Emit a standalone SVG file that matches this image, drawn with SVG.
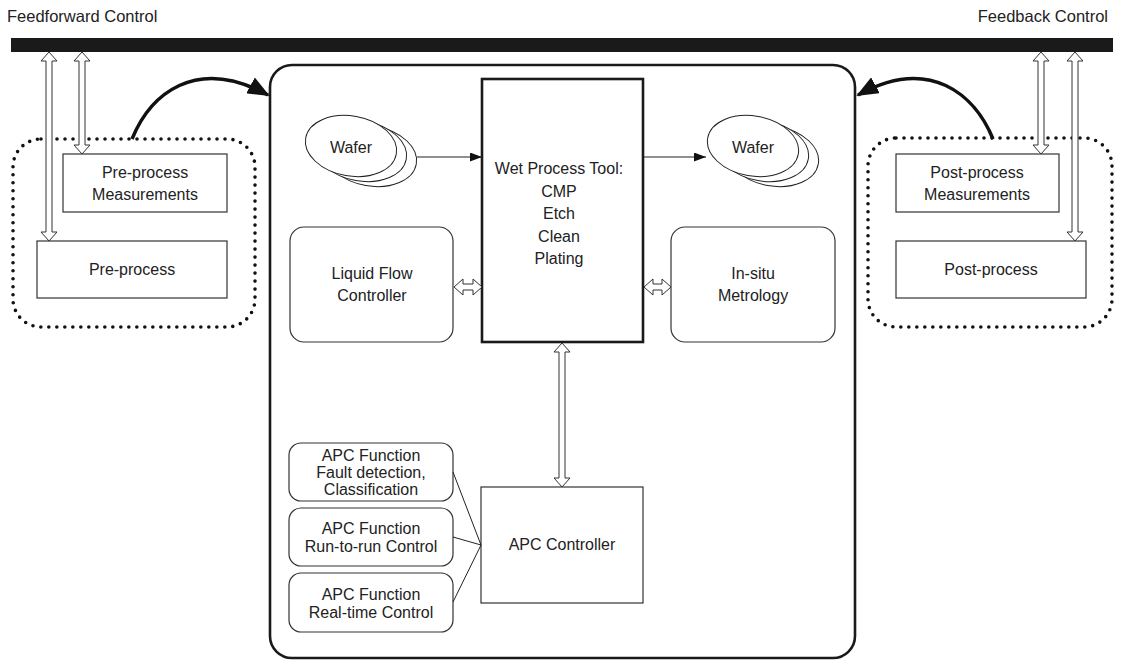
<svg xmlns="http://www.w3.org/2000/svg" width="1122" height="660" viewBox="0 0 1122 660">
<style>
text{font-family:"Liberation Sans",Arial,sans-serif;font-size:16px;fill:#222;text-anchor:middle;dominant-baseline:central}
.ttl{font-size:16.5px}
.box{fill:#fff;stroke:#333;stroke-width:1.2}
.thick{fill:#fff;stroke:#1a1a1a;stroke-width:2.6}
.dot{fill:none;stroke:#111;stroke-width:3.6;stroke-linecap:round;stroke-dasharray:0 8}
.dbl{fill:#fff;stroke:#333;stroke-width:1}
.curve{fill:none;stroke:#111;stroke-width:3.5}
.thin{fill:none;stroke:#222;stroke-width:1}
.wafer{fill:#fff;stroke:#222;stroke-width:1}
</style>
<defs>
<marker id="big" markerUnits="userSpaceOnUse" markerWidth="22" markerHeight="18" viewBox="0 0 22 18" refX="20" refY="9" orient="auto">
<path d="M0,0 L22,9 L0,18 Z" fill="#111"/>
</marker>
<marker id="small" markerUnits="userSpaceOnUse" markerWidth="12" markerHeight="9" viewBox="0 0 12 9" refX="12" refY="4.5" orient="auto">
<path d="M0,0 L12,4.5 L0,9 Z" fill="#111"/>
</marker>
</defs>
<rect width="1122" height="660" fill="#fff"/>

<g id="titles">
<text x="7" y="16" class="ttl" style="text-anchor:start">Feedforward Control</text>
<text x="1108" y="16" class="ttl" style="text-anchor:end">Feedback Control</text>
</g>

<g id="bus"><rect x="11" y="38" width="1102" height="14" fill="#1a1a1a"/></g>

<g id="main-container"><rect x="270" y="65" width="585" height="593" rx="22" class="thick" fill="none"/></g>

<g id="pre-group"><rect x="13" y="139" width="242" height="188" rx="28" class="dot"/></g>
<g id="post-group"><rect x="868" y="138" width="244" height="189" rx="28" class="dot"/></g>

<g id="pre-meas"><rect x="63" y="154" width="164" height="58" class="box"/><text x="145" y="172">Pre-process</text><text x="145" y="194">Measurements</text></g>
<g id="pre-process"><rect x="37" y="241" width="190" height="57" class="box"/><text x="132" y="269">Pre-process</text></g>
<g id="post-meas"><rect x="896" y="154" width="163" height="58" class="box"/><text x="977" y="172">Post-process</text><text x="977" y="194">Measurements</text></g>
<g id="post-process"><rect x="896" y="241" width="190" height="57" class="box"/><text x="991" y="269">Post-process</text></g>

<g id="wafer-in">
<ellipse cx="371" cy="156" rx="46" ry="30" transform="rotate(10 371 156)" class="wafer"/>
<ellipse cx="361" cy="151" rx="46" ry="30" transform="rotate(10 361 151)" class="wafer"/>
<ellipse cx="351" cy="146" rx="46" ry="30" transform="rotate(10 351 146)" class="wafer"/>
<text x="351" y="147">Wafer</text>
</g>
<g id="wafer-out">
<ellipse cx="773" cy="156" rx="46" ry="30" transform="rotate(10 773 156)" class="wafer"/>
<ellipse cx="763" cy="151" rx="46" ry="30" transform="rotate(10 763 151)" class="wafer"/>
<ellipse cx="753" cy="146" rx="46" ry="30" transform="rotate(10 753 146)" class="wafer"/>
<text x="753" y="147">Wafer</text>
</g>

<g id="wet-tool"><rect x="482" y="79" width="161" height="263" class="thick"/>
<text x="559" y="168">Wet Process Tool:</text>
<text x="559" y="191">CMP</text>
<text x="559" y="213">Etch</text>
<text x="559" y="236">Clean</text>
<text x="559" y="258">Plating</text>
</g>

<g id="lfc"><rect x="290" y="227" width="163" height="115" rx="14" class="box"/><text x="372" y="273">Liquid Flow</text><text x="372" y="295">Controller</text></g>
<g id="insitu"><rect x="671" y="227" width="164" height="115" rx="14" class="box"/><text x="753" y="273">In-situ</text><text x="753" y="295">Metrology</text></g>

<g id="apc-controller"><rect x="481" y="487" width="162" height="116" class="box"/><text x="562" y="544">APC Controller</text></g>

<g id="apc-fd"><rect x="289" y="443" width="164" height="58" rx="12" class="box"/><text x="371" y="455">APC Function</text><text x="371" y="472">Fault detection,</text><text x="371" y="489">Classification</text></g>
<g id="apc-r2r"><rect x="289" y="508" width="164" height="58" rx="12" class="box"/><text x="371" y="528">APC Function</text><text x="371" y="546">Run-to-run Control</text></g>
<g id="apc-rt"><rect x="289" y="573" width="164" height="59" rx="12" class="box"/><text x="371" y="594">APC Function</text><text x="371" y="612">Real-time Control</text></g>

<g id="connectors">
<path class="curve" d="M132,139 C150,95 195,55 268,95" marker-end="url(#big)"/>
<path class="curve" d="M993,139 C975,95 930,55 858,95" marker-end="url(#big)"/>
<line x1="417" y1="157" x2="482" y2="157" class="thin" marker-end="url(#small)"/>
<line x1="643" y1="157" x2="706" y2="157" class="thin" marker-end="url(#small)"/>
<line x1="453" y1="472" x2="481" y2="545" class="thin"/>
<line x1="453" y1="537" x2="481" y2="545" class="thin"/>
<line x1="453" y1="602" x2="481" y2="545" class="thin"/>
<path class="dbl" d="M49,52 L57,61 L52,61 L52,232 L57,232 L49,241 L41,232 L46,232 L46,61 L41,61 Z"/>
<path class="dbl" d="M82,52 L90,61 L85,61 L85,145 L90,145 L82,154 L74,145 L79,145 L79,61 L74,61 Z"/>
<path class="dbl" d="M1041,52 L1049,61 L1044,61 L1044,145 L1049,145 L1041,154 L1033,145 L1038,145 L1038,61 L1033,61 Z"/>
<path class="dbl" d="M1075,52 L1083,61 L1078,61 L1078,232 L1083,232 L1075,241 L1067,232 L1072,232 L1072,61 L1067,61 Z"/>
<path class="dbl" d="M562,343 L570,352 L565,352 L565,478 L570,478 L562,487 L554,478 L559,478 L559,352 L554,352 Z"/>
<path class="dbl" d="M454,287 L463,279 L463,284 L473,284 L473,279 L482,287 L473,295 L473,290 L463,290 L463,295 Z"/>
<path class="dbl" d="M644,287 L653,279 L653,284 L662,284 L662,279 L671,287 L662,295 L662,290 L653,290 L653,295 Z"/>
</g>
</svg>
